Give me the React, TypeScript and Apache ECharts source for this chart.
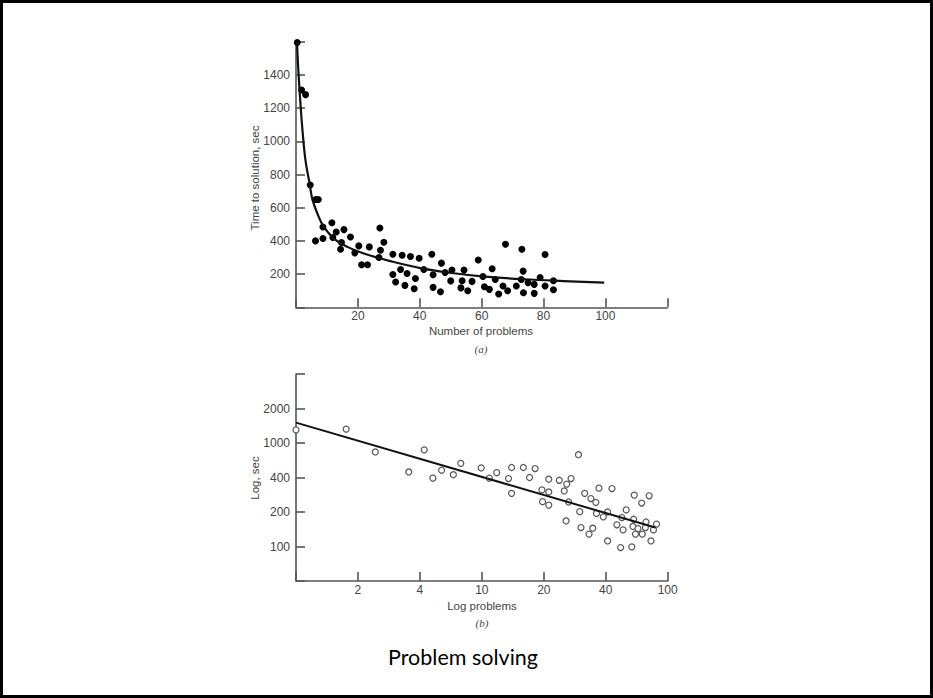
import React, { useEffect, useRef } from 'react';
import * as echarts from 'echarts';

// ---------- Chart (a): Time to solution vs number of problems ----------
const pointsA: number[][] = [
  [0.4, 1595], [1.8, 1309], [3.1, 1281], [4.6, 737], [6.4, 649], [7.2, 649],
  [6.3, 400], [8.7, 414], [8.7, 484], [11.6, 509], [13.0, 454], [11.9, 420],
  [15.5, 468], [14.7, 390], [14.4, 350], [17.6, 424], [20.3, 370], [19.0, 328],
  [21.2, 256], [23.1, 256], [23.7, 364], [26.8, 300], [27.3, 344], [27.1, 478],
  [28.4, 392], [31.3, 320], [34.3, 314], [37.0, 306], [39.8, 296], [43.9, 320],
  [31.3, 198], [32.2, 152], [33.8, 228], [35.9, 204], [35.2, 132], [38.6, 174],
  [38.2, 112], [41.3, 228], [44.3, 196], [44.3, 120], [46.7, 94], [47.0, 266],
  [48.2, 210], [50.4, 224], [50.0, 159], [53.7, 160], [54.3, 224], [53.3, 117],
  [55.5, 100], [56.9, 156], [58.9, 285], [60.4, 186], [60.9, 124], [62.5, 108],
  [63.4, 232], [64.4, 168], [65.5, 80], [66.9, 128], [68.4, 100], [67.7, 380],
  [71.2, 128], [73.0, 350], [73.4, 218], [72.8, 168], [75.0, 148], [73.5, 88],
  [77.0, 138], [77.0, 84], [78.9, 180], [80.5, 318], [80.5, 128], [83.2, 160],
  [83.2, 106],
];

const curveA: number[][] = [
  [0.3, 1600], [0.65, 1465], [1.3, 1265], [2.1, 1065], [3.1, 880], [4.4, 745],
  [5.3, 650], [6.9, 565], [9, 484], [12.3, 414], [16.6, 364], [21.9, 324],
  [30.5, 278], [40.2, 236], [51, 205], [60.1, 186], [73.5, 169], [86.5, 158],
  [99.6, 149],
];

const xTicksA = [20, 40, 60, 80, 100];
const yTicksA = [200, 400, 600, 800, 1000, 1200, 1400];

// ---------- Chart (b): log-log plot (positions in tick steps) ----------
// x step 0..6 -> labels below, y step -1..5 -> labels below
const xLabelsB = ['', '2', '4', '10', '20', '40', '100'];
const yLabelsB = ['', '100', '200', '400', '1000', '2000', ''];

const pointsB: number[][] = [
  [0.0, 3.38], [0.81, 3.4], [1.28, 2.74], [1.82, 2.16], [2.07, 2.8], [2.21, 1.98],
  [2.35, 2.21], [2.54, 2.08], [2.66, 2.41], [2.99, 2.28], [3.12, 1.98], [3.24, 2.14],
  [3.48, 2.29], [3.67, 2.29], [3.86, 2.26], [3.43, 1.97], [3.48, 1.54], [3.77, 2.0],
  [3.97, 1.64], [4.08, 1.95], [4.08, 1.58], [3.98, 1.3], [4.08, 1.2], [4.25, 1.92],
  [4.33, 1.61], [4.37, 1.81], [4.44, 1.97], [4.4, 1.29], [4.56, 2.66], [4.36, 0.74],
  [4.58, 1.01], [4.6, 0.55], [4.66, 1.54], [4.76, 1.39], [4.84, 1.28], [4.89, 1.69],
  [5.1, 1.68], [4.79, 0.53], [4.73, 0.36], [4.85, 0.96], [4.96, 0.86], [5.03, 1.0],
  [5.03, 0.16], [5.18, 0.63], [5.28, 0.48], [5.26, 0.84], [5.33, 1.06], [5.24, -0.03],
  [5.42, -0.01], [5.46, 1.49], [5.58, 1.26], [5.7, 1.47], [5.45, 0.79], [5.44, 0.58],
  [5.48, 0.36], [5.59, 0.36], [5.52, 0.52], [5.65, 0.71], [5.64, 0.55], [5.73, 0.16],
  [5.77, 0.48], [5.82, 0.65],
];

const lineB: number[][] = [[0, 3.59], [5.8, 0.55]];

const AXIS_COLOR = '#555';
const TEXT_COLOR = '#444';
const FONT = 'Liberation Sans';

function axisBase() {
  return {
    axisLine: { show: true, onZero: false, lineStyle: { color: AXIS_COLOR, width: 1.6 } },
    axisTick: { show: true, inside: true, length: 9, lineStyle: { color: AXIS_COLOR, width: 1.6 } },
    splitLine: { show: false },
  };
}

export default function App() {
  const ref = useRef<HTMLDivElement>(null);
  useEffect(() => {
    document.body.style.margin = '0';
    const chart = echarts.init(ref.current!, null, { renderer: 'svg' });
    chart.setOption({
      animation: false,
      backgroundColor: '#fff',
      grid: [
        { left: 296, top: 41.7, width: 371.3, height: 265.6 },
        { left: 296, top: 374, width: 371.7, height: 207 },
      ],
      xAxis: [
        {
          ...axisBase(),
          type: 'value', gridIndex: 0, min: 0, max: 120, interval: 20,
          axisLabel: {
            color: TEXT_COLOR, fontSize: 12, fontFamily: FONT, margin: 3,
            formatter: (v: number) => (xTicksA.includes(v) ? String(v) : ''),
          },
        },
        {
          ...axisBase(),
          type: 'value', gridIndex: 1, min: 0, max: 6, interval: 1,
          axisLabel: {
            color: TEXT_COLOR, fontSize: 12, fontFamily: FONT, margin: 3,
            formatter: (v: number) => xLabelsB[Math.round(v)] ?? '',
          },
        },
      ],
      yAxis: [
        {
          ...axisBase(),
          type: 'value', gridIndex: 0, min: 0, max: 1600, interval: 200,
          axisLabel: {
            color: TEXT_COLOR, fontSize: 12, fontFamily: FONT, margin: 6,
            formatter: (v: number) => (yTicksA.includes(v) ? String(v) : ''),
          },
        },
        {
          ...axisBase(),
          type: 'value', gridIndex: 1, min: -1, max: 5, interval: 1,
          axisLabel: {
            color: TEXT_COLOR, fontSize: 12, fontFamily: FONT, margin: 6,
            formatter: (v: number) => yLabelsB[Math.round(v) + 1] ?? '',
          },
        },
      ],
      series: [
        {
          type: 'line', xAxisIndex: 0, yAxisIndex: 0, data: curveA,
          smooth: 0.4, showSymbol: false, symbol: 'none',
          lineStyle: { color: '#111', width: 2.2 },
        },
        {
          type: 'scatter', xAxisIndex: 0, yAxisIndex: 0, data: pointsA,
          symbol: 'circle', symbolSize: 7, itemStyle: { color: '#000', opacity: 1 },
        },
        {
          type: 'line', xAxisIndex: 1, yAxisIndex: 1, data: lineB,
          showSymbol: false, symbol: 'none',
          lineStyle: { color: '#111', width: 2 },
        },
        {
          type: 'scatter', xAxisIndex: 1, yAxisIndex: 1, data: pointsB,
          symbol: 'circle', symbolSize: 6,
          itemStyle: { color: '#fff', borderColor: '#555', borderWidth: 1.2, opacity: 1 },
        },
      ],
      graphic: [
        {
          type: 'rect', shape: { x: 1.5, y: 1.5, width: 930, height: 695 },
          style: { fill: 'none', stroke: '#000', lineWidth: 3 },
        },
        {
          type: 'text', x: 255, y: 178, rotation: Math.PI / 2,
          style: { text: 'Time to solution, sec', fill: TEXT_COLOR, font: `11.5px ${FONT}`, align: 'center', verticalAlign: 'middle' },
        },
        {
          type: 'text', x: 481, y: 331,
          style: { text: 'Number of problems', fill: TEXT_COLOR, font: `11.5px ${FONT}`, align: 'center', verticalAlign: 'middle' },
        },
        {
          type: 'text', x: 481, y: 349,
          style: { text: '(a)', fill: TEXT_COLOR, font: `italic 11px 'Liberation Serif'`, align: 'center', verticalAlign: 'middle' },
        },
        {
          type: 'text', x: 255, y: 478, rotation: Math.PI / 2,
          style: { text: 'Log, sec', fill: TEXT_COLOR, font: `11.5px ${FONT}`, align: 'center', verticalAlign: 'middle' },
        },
        {
          type: 'text', x: 482, y: 606,
          style: { text: 'Log problems', fill: TEXT_COLOR, font: `11.5px ${FONT}`, align: 'center', verticalAlign: 'middle' },
        },
        {
          type: 'text', x: 482, y: 623,
          style: { text: '(b)', fill: TEXT_COLOR, font: `italic 11px 'Liberation Serif'`, align: 'center', verticalAlign: 'middle' },
        },
        {
          type: 'text', x: 463, y: 657,
          style: { text: 'Problem solving', fill: '#000', font: `21.5px Lato`, align: 'center', verticalAlign: 'middle' },
        },
      ],
    });
    return () => chart.dispose();
  }, []);
  return <div ref={ref} style={{ position: 'absolute', left: 0, top: 0, width: 933, height: 698 }} />;
}
